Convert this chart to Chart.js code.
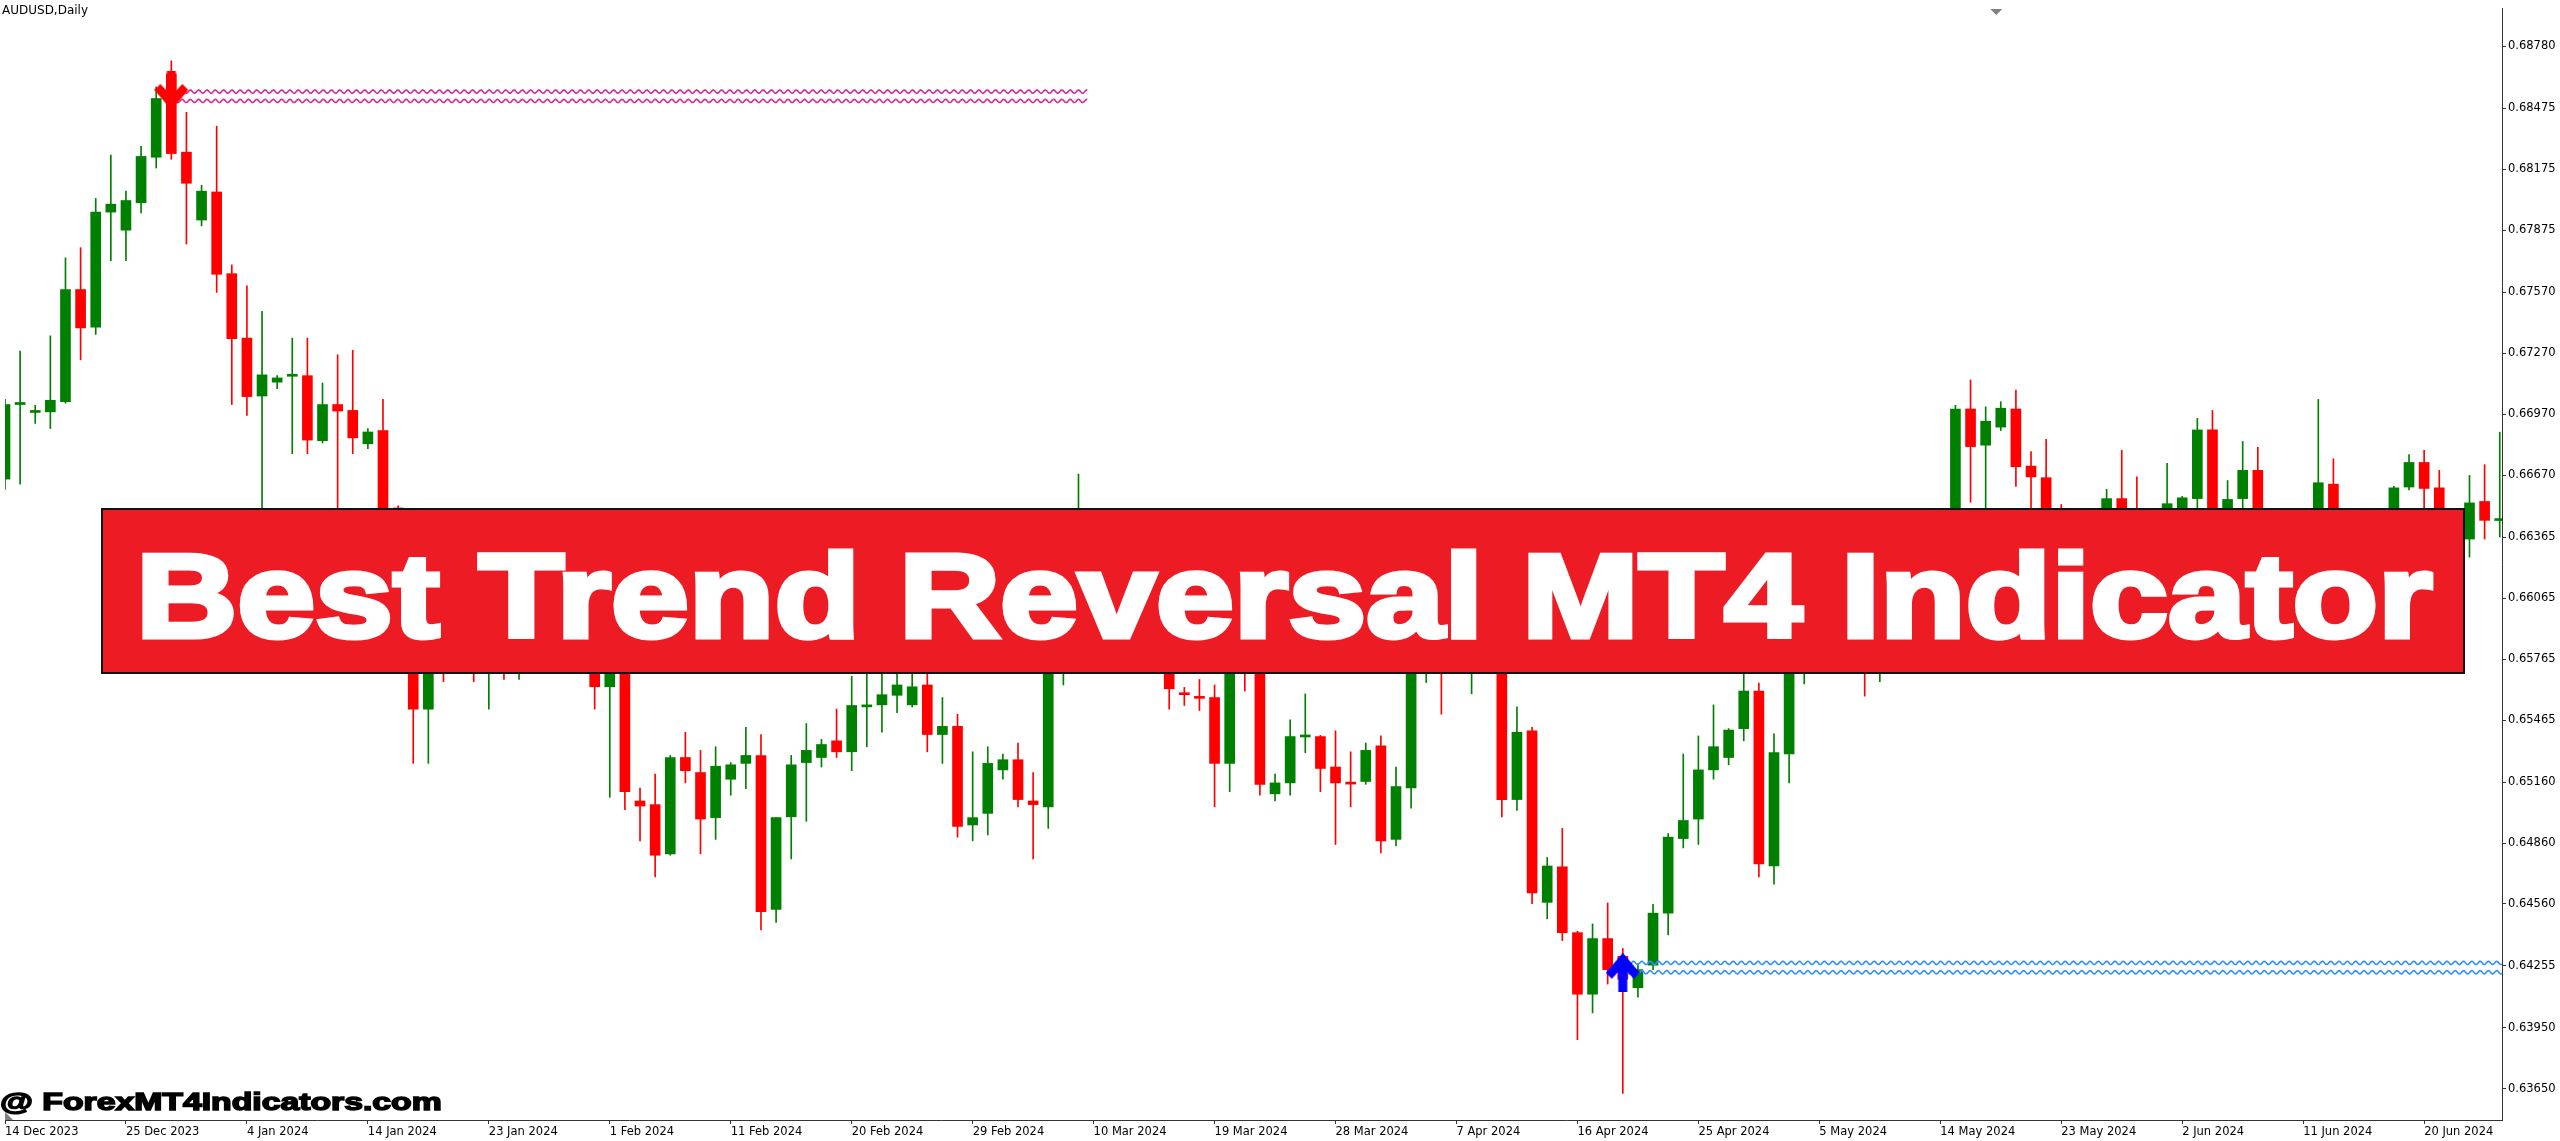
<!DOCTYPE html>
<html lang="en">
<head>
<meta charset="UTF-8">
<title>AUDUSD,Daily - Best Trend Reversal MT4 Indicator</title>
<script src="https://cdn.jsdelivr.net/npm/chart.js"></script>
<style>
  body { margin: 0; background: #fff; overflow: hidden; }
  #wrap { position: relative; width: 2560px; height: 1141px; }
  #chart { position: absolute; left: 0; top: 0; }
  .symbol { position: absolute; left: 2px; top: 4px; font: 12px "DejaVu Sans"; line-height: 12px; color: #000; }
  .banner { position: absolute; left: 101px; top: 508px; width: 2360px; height: 162px; background: #ed1c24; border: 2px solid #111; }
  .banner span, .site { position: absolute; white-space: nowrap; transform-origin: left top; font-family: "Liberation Sans"; font-weight: bold; }
  .banner span { color: #fff; -webkit-text-stroke: 5px #fff; }
  .site { color: #000; -webkit-text-stroke: 1.5px #000; }
</style>
</head>
<body>
<div id="wrap">
  <canvas id="chart" width="2560" height="1141"></canvas>
  <div class="symbol">AUDUSD,Daily</div>
  <div class="banner"><span id="bannerText">Best Trend Reversal MT4 Indicator</span></div>
  <div class="site" id="siteText">@ ForexMT4Indicators.com</div>
</div>

<script>
// date labels, one every 8 bars
const labelStep = 8;
const dateLabels = ["14 Dec 2023", "25 Dec 2023", "4 Jan 2024", "14 Jan 2024", "23 Jan 2024", "1 Feb 2024",
  "11 Feb 2024", "20 Feb 2024", "29 Feb 2024", "10 Mar 2024", "19 Mar 2024", "28 Mar 2024", "7 Apr 2024",
  "16 Apr 2024", "25 Apr 2024", "5 May 2024", "14 May 2024", "23 May 2024", "2 Jun 2024", "11 Jun 2024", "20 Jun 2024"];

const yTicks = [0.68780, 0.68475, 0.68175, 0.67875, 0.67570, 0.67270, 0.66970, 0.66670, 0.66365,
  0.66065, 0.65765, 0.65465, 0.65160, 0.64860, 0.64560, 0.64255, 0.63950, 0.63650];
const yMin = 0.63497, yMax = 0.68965;
const xMin = 0, xMax = 165.15;

const open = [
  0.66651,0.67018,0.66979,0.66982,0.67032,0.67584,0.67399,0.67965,0.67876,0.68011,
  0.68235,0.68645,0.68260,0.67926,0.68064,0.67662,0.67345,0.67060,0.67128,0.67157,
  0.67160,0.66840,0.67018,0.66989,0.66825,0.66890,0.66509,0.66100,0.65519,0.65950,
  0.65900,0.65980,0.65880,0.65950,0.65900,0.65960,0.66020,0.66080,0.66000,0.65900,
  0.65629,0.65800,0.65067,0.65049,0.64807,0.65281,0.65207,0.64985,0.65174,0.65252,
  0.65291,0.64533,0.64989,0.65256,0.65281,0.65363,0.65309,0.65530,0.65540,0.65587,
  0.65540,0.65638,0.65394,0.65434,0.64949,0.65006,0.65220,0.65270,0.65067,0.65038,
  0.65760,0.65900,0.66080,0.66000,0.66120,0.66050,0.65950,0.65850,0.65598,0.65580,
  0.65576,0.65252,0.65760,0.65720,0.65102,0.65156,0.65382,0.65384,0.65234,0.65156,
  0.65163,0.65338,0.64878,0.65131,0.65850,0.65900,0.65800,0.65880,0.65950,0.65900,
  0.65074,0.65412,0.64568,0.64743,0.64419,0.64116,0.64390,0.64302,0.64148,0.64259,
  0.64515,0.64882,0.64978,0.65220,0.65281,0.65423,0.65608,0.64747,0.65298,0.65900,
  0.66200,0.66150,0.66250,0.66180,0.65950,0.66100,0.66200,0.66150,0.66250,0.66300,
  0.66996,0.66818,0.66907,0.66996,0.66715,0.66658,0.66400,0.66300,0.66350,0.66400,
  0.66555,0.66400,0.66350,0.66380,0.66450,0.66555,0.66893,0.66420,0.66555,0.66694,
  0.66450,0.66400,0.66440,0.66420,0.66626,0.66450,0.66400,0.66440,0.66420,0.66612,
  0.66733,0.66608,0.66450,0.66356,0.66541,0.66447];
const high = [
  0.67043,0.67281,0.67014,0.67356,0.67740,0.67790,0.68032,0.68246,0.68068,0.68289,
  0.68581,0.68709,0.68456,0.68097,0.68388,0.67705,0.67602,0.67477,0.67160,0.67345,
  0.67345,0.67124,0.67263,0.67285,0.66900,0.67043,0.66520,0.66160,0.66020,0.66100,
  0.66080,0.66050,0.66050,0.66020,0.66050,0.66100,0.66160,0.66150,0.66060,0.65980,
  0.65850,0.65830,0.65131,0.65199,0.65291,0.65405,0.65316,0.65334,0.65256,0.65430,
  0.65394,0.64985,0.65291,0.65448,0.65370,0.65519,0.65680,0.65700,0.65700,0.65720,
  0.65700,0.65700,0.65576,0.65494,0.65309,0.65334,0.65298,0.65352,0.65207,0.65800,
  0.66050,0.66676,0.66200,0.66200,0.66250,0.66150,0.66000,0.65900,0.65626,0.65665,
  0.65638,0.65850,0.65850,0.65760,0.65199,0.65466,0.65594,0.65390,0.65412,0.65309,
  0.65352,0.65387,0.65234,0.65950,0.66000,0.65980,0.65950,0.66050,0.66020,0.65950,
  0.65530,0.65430,0.64789,0.64932,0.64426,0.64462,0.64565,0.64341,0.64266,0.64558,
  0.64907,0.65298,0.65387,0.65540,0.65423,0.65700,0.65647,0.65398,0.66000,0.66491,
  0.66300,0.66350,0.66330,0.66250,0.66200,0.66300,0.66350,0.66380,0.66400,0.67014,
  0.67139,0.67007,0.67032,0.67089,0.66786,0.66847,0.66526,0.66450,0.66460,0.66601,
  0.66793,0.66662,0.66460,0.66729,0.66566,0.66950,0.66989,0.66644,0.66836,0.66808,
  0.66460,0.66460,0.66470,0.67043,0.66751,0.66470,0.66470,0.66470,0.66615,0.66772,
  0.66793,0.66694,0.66460,0.66669,0.66722,0.66882];
const low = [
  0.66600,0.66626,0.66925,0.66900,0.67025,0.67238,0.67363,0.67726,0.67726,0.67961,
  0.68182,0.68225,0.67808,0.67897,0.67570,0.67018,0.66964,0.66260,0.67096,0.66776,
  0.66776,0.66829,0.66402,0.66776,0.66801,0.66491,0.66080,0.65252,0.65252,0.65654,
  0.65780,0.65654,0.65519,0.65665,0.65665,0.65850,0.65950,0.65920,0.65800,0.65519,
  0.65085,0.65024,0.64871,0.64693,0.64800,0.65156,0.64807,0.64878,0.65095,0.65127,
  0.64433,0.64469,0.64782,0.64967,0.65234,0.65281,0.65216,0.65334,0.65405,0.65501,
  0.65530,0.65309,0.65252,0.64889,0.64871,0.64900,0.65174,0.65038,0.64782,0.64932,
  0.65638,0.65800,0.65900,0.65920,0.65980,0.65850,0.65750,0.65519,0.65537,0.65512,
  0.65038,0.65113,0.65608,0.65095,0.65067,0.65095,0.65305,0.65113,0.64853,0.65038,
  0.65149,0.64811,0.64846,0.65031,0.65650,0.65494,0.65720,0.65594,0.65800,0.64989,
  0.65020,0.64561,0.64487,0.64380,0.63892,0.64024,0.64166,0.63628,0.64102,0.64237,
  0.64408,0.64836,0.64853,0.65174,0.65245,0.65363,0.64693,0.64658,0.65156,0.65643,
  0.66050,0.66100,0.66080,0.65583,0.65654,0.66000,0.66050,0.66100,0.66150,0.66250,
  0.66537,0.66350,0.66890,0.66615,0.66400,0.66350,0.66200,0.66200,0.66280,0.66300,
  0.66320,0.66280,0.66280,0.66300,0.66380,0.66420,0.66400,0.66350,0.66420,0.66400,
  0.66330,0.66350,0.66400,0.66380,0.66380,0.66330,0.66340,0.66400,0.66350,0.66598,
  0.66400,0.66380,0.66300,0.66267,0.66356,0.66366];
const close = [
  0.67018,0.67028,0.66986,0.67039,0.67584,0.67395,0.67965,0.68004,0.68022,0.68239,
  0.68524,0.68253,0.68107,0.68068,0.67659,0.67342,0.67057,0.67164,0.67149,0.67164,
  0.66843,0.67018,0.66986,0.66854,0.66883,0.66509,0.66150,0.65519,0.65950,0.65900,
  0.65980,0.65880,0.65950,0.65900,0.65960,0.66020,0.66080,0.66000,0.65900,0.65629,
  0.65800,0.65113,0.65042,0.64800,0.65281,0.65216,0.64978,0.65238,0.65245,0.65291,
  0.64522,0.64985,0.65245,0.65316,0.65345,0.65309,0.65537,0.65540,0.65590,0.65638,
  0.65629,0.65394,0.65434,0.64942,0.64985,0.65252,0.65270,0.65074,0.65049,0.65760,
  0.65900,0.66080,0.66000,0.66120,0.66050,0.65950,0.65850,0.65619,0.65590,0.65572,
  0.65252,0.65760,0.65720,0.65149,0.65156,0.65384,0.65386,0.65227,0.65156,0.65150,
  0.65316,0.64871,0.65138,0.65850,0.65900,0.65800,0.65880,0.65950,0.65900,0.65074,
  0.65405,0.64615,0.64747,0.64419,0.64116,0.64390,0.64237,0.64190,0.64237,0.64515,
  0.64889,0.64971,0.65220,0.65334,0.65416,0.65608,0.64757,0.65305,0.65900,0.66200,
  0.66150,0.66250,0.66180,0.65950,0.66100,0.66200,0.66150,0.66250,0.66300,0.66996,
  0.66811,0.66936,0.67000,0.66712,0.66662,0.66400,0.66300,0.66350,0.66420,0.66555,
  0.66400,0.66350,0.66420,0.66530,0.66559,0.66893,0.66450,0.66551,0.66694,0.66450,
  0.66400,0.66440,0.66420,0.66633,0.66450,0.66400,0.66440,0.66430,0.66608,0.66733,
  0.66605,0.66450,0.66400,0.66534,0.66448,0.66450];

// indicator signals and their levels
const sellArrow = { bar: 11, price: 0.68564 };
const buyArrow = { bar: 107, price: 0.64224 };
const sellLevels = [0.68558, 0.68512];
const sellLevelBars = [11.3, 71.6];
const buyLevels = [0.64270, 0.64224];
const buyLevelBars = [107.3, 166];
const shiftMarkerBar = 131.7;

const bull = '#008000', bear = '#ff0000';
const bars = open.map((_, i) => i);
const colors = bars.map(i => close[i] >= open[i] ? bull : bear);

function arrowImage(color, down) {
  const c = document.createElement('canvas');
  c.width = 34; c.height = 39;
  const g = c.getContext('2d');
  const pts = [[17,0],[34,20],[28,26],[21.5,19],[21.5,39],[12.5,39],[12.5,19],[6,26],[0,20]];
  g.beginPath();
  pts.forEach(([x, y], k) => {
    const yy = down ? 39 - y : y;
    k ? g.lineTo(x, yy) : g.moveTo(x, yy);
  });
  g.closePath();
  g.fillStyle = color;
  g.fill();
  return c;
}

// wavy stroke for the level datasets, gray chart-shift markers
const extras = {
  id: 'extras',
  afterDatasetDraw(chart, args) {
    const ds = chart.data.datasets[args.index];
    if (!ds.wave) return;
    const pts = args.meta.data;
    const a = chart.chartArea, ctx = chart.ctx;
    const x1 = pts[0].x, x2 = Math.min(pts[1].x, a.right), y = pts[0].y;
    ctx.save();
    ctx.beginPath();
    for (let x = x1; x <= x2; x += 0.5) {
      const yy = y + 1.6 * Math.sin((x - x1) / 8.3 * 2 * Math.PI);
      x === x1 ? ctx.moveTo(x, yy) : ctx.lineTo(x, yy);
    }
    ctx.strokeStyle = ds.borderColor;
    ctx.lineWidth = 1.6;
    ctx.stroke();
    ctx.restore();
  },
  afterDraw(chart) {
    const ctx = chart.ctx, a = chart.chartArea;
    const mx = chart.scales.x.getPixelForValue(shiftMarkerBar);
    ctx.save();
    ctx.fillStyle = '#808080';
    ctx.beginPath();
    ctx.moveTo(mx - 6, a.top); ctx.lineTo(mx + 6, a.top); ctx.lineTo(mx, a.top + 6);
    ctx.fill();
    ctx.beginPath();
    ctx.moveTo(a.left, a.bottom - 8); ctx.lineTo(a.left + 8, a.bottom); ctx.lineTo(a.left, a.bottom);
    ctx.fill();
    ctx.restore();
  }
};

function levelSet(value, xs, color) {
  return {
    type: 'line', wave: true, order: 1,
    data: xs.map(x => ({ x: x, y: value })),
    borderColor: color, showLine: false, pointRadius: 0
  };
}

const axisFont = { family: 'DejaVu Sans', size: 11.5 };

new Chart(document.getElementById('chart'), {
  type: 'bar',
  data: {
    datasets: [
      { type: 'scatter', order: 0, data: [{ x: sellArrow.bar, y: sellArrow.price }], pointStyle: arrowImage('#ff0000', true) },
      { type: 'scatter', order: 0, data: [{ x: buyArrow.bar, y: buyArrow.price }], pointStyle: arrowImage('#0000ff', false) },
      levelSet(sellLevels[0], sellLevelBars, '#d02a9c'),
      levelSet(sellLevels[1], sellLevelBars, '#d02a9c'),
      levelSet(buyLevels[0], buyLevelBars, '#2f8fff'),
      levelSet(buyLevels[1], buyLevelBars, '#2f8fff'),
      {
        order: 2, grouped: false, barThickness: 10, minBarLength: 2,
        data: bars.map(i => ({ x: i, y: [open[i], close[i]] })),
        backgroundColor: colors, borderWidth: 0
      },
      {
        order: 3, grouped: false, barThickness: 1,
        data: bars.map(i => ({ x: i, y: [low[i], high[i]] })),
        backgroundColor: colors, borderWidth: 0
      }
    ]
  },
  options: {
    responsive: false,
    animation: false,
    layout: { padding: 0 },
    plugins: { legend: { display: false }, tooltip: { enabled: false } },
    scales: {
      x: {
        type: 'linear', min: xMin, max: xMax, offset: false,
        afterBuildTicks: s => { s.ticks = dateLabels.map((_, k) => ({ value: k * labelStep })); },
        afterFit: s => { s.height = 21; },
        ticks: {
          align: 'start', autoSkip: false, maxRotation: 0, padding: 1, color: '#000', font: axisFont,
          callback: v => dateLabels[Math.round(v / labelStep)]
        },
        grid: { drawOnChartArea: false, tickLength: 4, color: '#333', offset: false },
        border: { color: '#333', width: 1 }
      },
      y: {
        position: 'right', min: yMin, max: yMax,
        afterBuildTicks: s => { s.ticks = yTicks.map(v => ({ value: v })); },
        afterFit: s => { s.width = 58; },
        ticks: { autoSkip: false, padding: 2, color: '#000', font: axisFont, callback: v => v.toFixed(5) },
        grid: { drawOnChartArea: false, tickLength: 4, color: '#333' },
        border: { color: '#333', width: 1 }
      }
    }
  },
  plugins: [extras]
});

// fit overlay texts to the reference size (stroke adds half its width on each side)
function placeText(el, o) {
  const cs = getComputedStyle(el);
  const st = o.stroke / 2;
  const capTop = o.capTop + st, baseline = o.baseline - st, width = o.width - o.stroke, left = o.left + st;
  const g = document.createElement('canvas').getContext('2d');
  g.font = cs.fontWeight + ' 100px ' + cs.fontFamily;
  const cap = g.measureText('H').actualBoundingBoxAscent;
  const fs = (baseline - capTop) / cap * 100;
  g.font = cs.fontWeight + ' ' + fs + 'px ' + cs.fontFamily;
  const m = g.measureText(el.textContent);
  const s = width / (m.actualBoundingBoxLeft + m.actualBoundingBoxRight);
  const asc = m.fontBoundingBoxAscent, desc = m.fontBoundingBoxDescent;
  el.style.fontSize = fs + 'px';
  el.style.lineHeight = fs + 'px';
  el.style.transform = 'scaleX(' + s + ')';
  el.style.left = (left + m.actualBoundingBoxLeft * s - o.ox) + 'px';
  el.style.top = (baseline - ((fs - asc - desc) / 2 + asc) - o.oy) + 'px';
}
placeText(document.getElementById('bannerText'), { left: 141.7, width: 2292, capTop: 552, baseline: 640, stroke: 5, ox: 103, oy: 510 });
placeText(document.getElementById('siteText'), { left: 1, width: 441, capTop: 1092.5, baseline: 1111, stroke: 1.5, ox: 0, oy: 0 });
</script>
</body>
</html>
